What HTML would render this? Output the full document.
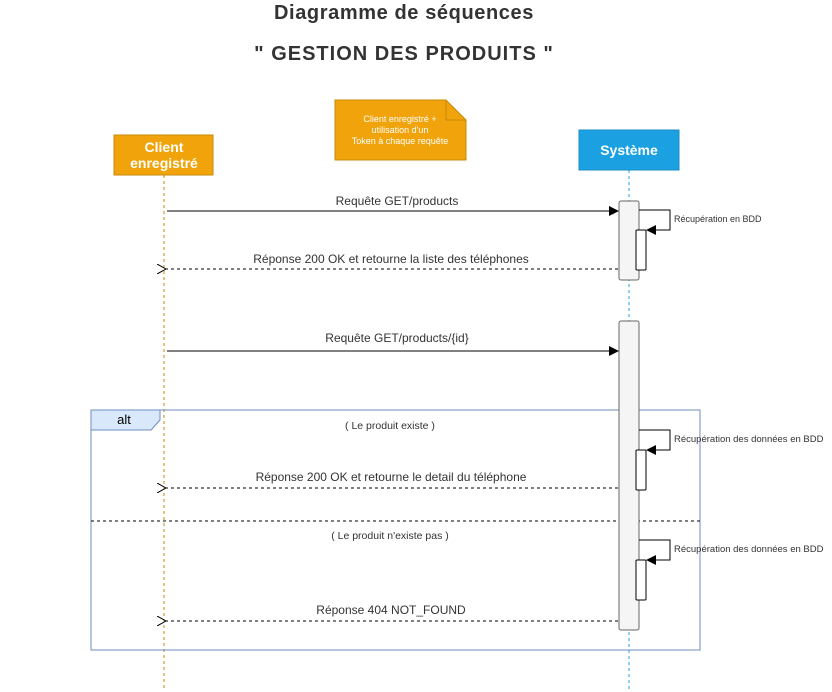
<!DOCTYPE html>
<html><head><meta charset="utf-8"><style>
html,body{margin:0;padding:0;background:#fff;}
svg{display:block;font-family:"Liberation Sans",sans-serif;}
</style></head><body>
<svg width="832" height="692" viewBox="0 0 832 692" xmlns="http://www.w3.org/2000/svg">
<defs>
<marker id="fa" markerWidth="10" markerHeight="10" refX="9" refY="5" orient="auto" markerUnits="userSpaceOnUse"><path d="M0,0 L10,5 L0,10 z" fill="#000"/></marker>
<marker id="oa" markerWidth="10" markerHeight="10" refX="1" refY="5" orient="auto" markerUnits="userSpaceOnUse"><path d="M10,0 L1,5 L10,10" fill="none" stroke="#000"/></marker>
</defs>
<text x="404" y="19" text-anchor="middle" font-size="20" font-weight="bold" fill="#333" letter-spacing="0.6">Diagramme de séquences</text>
<text x="404" y="60" text-anchor="middle" font-size="20" font-weight="bold" fill="#333" letter-spacing="1">" GESTION DES PRODUITS "</text>

<!-- note -->
<path d="M335,100 H446 L466,120 V160 H335 Z" fill="#F0A30A" stroke="#C88A08"/>
<path d="M446,100 V120 H466" fill="none" stroke="#C88A08"/>
<text x="400" y="122" text-anchor="middle" font-size="9" fill="#fff">Client enregistré +</text>
<text x="400" y="133" text-anchor="middle" font-size="9" fill="#fff">utilisation d'un</text>
<text x="400" y="144" text-anchor="middle" font-size="9" fill="#fff">Token à chaque requête</text>

<!-- lifelines -->
<line x1="164" y1="175" x2="164" y2="690" stroke="#C88A08" stroke-dasharray="3,3"/>
<line x1="629" y1="170" x2="629" y2="690" stroke="#1BA1E2" stroke-dasharray="3,3"/>
<rect x="114" y="135" width="99" height="40" fill="#F0A30A" stroke="#C88A08"/>
<text x="164" y="152" text-anchor="middle" font-size="14" font-weight="bold" fill="#fff">Client</text>
<text x="164" y="168" text-anchor="middle" font-size="14" font-weight="bold" fill="#fff">enregistré</text>
<rect x="579" y="130" width="100" height="40" fill="#1BA1E2" stroke="#1A8CC4"/>
<text x="629" y="155" text-anchor="middle" font-size="14" font-weight="bold" fill="#fff">Système</text>

<!-- alt frame -->
<rect x="91" y="410" width="609" height="240" fill="none" stroke="#6C8EBF"/>
<path d="M91,410 H160 V420 L151,430 H91 Z" fill="#DAE8FC" stroke="#6C8EBF"/>
<text x="124" y="424" text-anchor="middle" font-size="13" fill="#000">alt</text>
<line x1="91" y1="521" x2="700" y2="521" stroke="#000" stroke-dasharray="3,3"/>
<text x="390" y="429" text-anchor="middle" font-size="10.5" fill="#333">( Le produit existe )</text>
<text x="390" y="539" text-anchor="middle" font-size="10.5" fill="#333">( Le produit n'existe pas )</text>

<!-- activation 1 -->
<rect x="619" y="201" width="20" height="79" rx="2" fill="#F5F5F5" stroke="#666"/>
<rect x="636" y="230" width="10" height="40" rx="1" fill="#fff" stroke="#000"/>
<path d="M639,210 H670 V230 H647" fill="none" stroke="#000" marker-end="url(#fa)"/>
<text x="674" y="222" font-size="9" fill="#333">Récupération en BDD</text>
<line x1="167" y1="211" x2="618" y2="211" stroke="#000" marker-end="url(#fa)"/>
<text x="397" y="205" text-anchor="middle" font-size="12" fill="#333">Requête GET/products</text>
<line x1="618" y1="269" x2="166" y2="269" stroke="#000" stroke-dasharray="3,3" marker-end="url(#oa)"/>
<text x="391" y="263" text-anchor="middle" font-size="12" fill="#333">Réponse 200 OK et retourne la liste des téléphones</text>

<!-- activation 2 -->
<rect x="619" y="321" width="20" height="309" rx="2" fill="#F5F5F5" stroke="#666"/>
<line x1="167" y1="351" x2="618" y2="351" stroke="#000" marker-end="url(#fa)"/>
<text x="397" y="342" text-anchor="middle" font-size="12" fill="#333">Requête GET/products/{id}</text>

<rect x="636" y="450" width="10" height="40" rx="1" fill="#fff" stroke="#000"/>
<path d="M639,430 H670 V450 H647" fill="none" stroke="#000" marker-end="url(#fa)"/>
<text x="674" y="442" font-size="9.5" fill="#333">Récupération des données en BDD</text>
<line x1="618" y1="488" x2="166" y2="488" stroke="#000" stroke-dasharray="3,3" marker-end="url(#oa)"/>
<text x="391" y="481" text-anchor="middle" font-size="12" fill="#333">Réponse 200 OK et retourne le detail du téléphone</text>

<rect x="636" y="560" width="10" height="40" rx="1" fill="#fff" stroke="#000"/>
<path d="M639,540 H670 V560 H647" fill="none" stroke="#000" marker-end="url(#fa)"/>
<text x="674" y="552" font-size="9.5" fill="#333">Récupération des données en BDD</text>
<line x1="618" y1="621" x2="166" y2="621" stroke="#000" stroke-dasharray="3,3" marker-end="url(#oa)"/>
<text x="391" y="614" text-anchor="middle" font-size="12" fill="#333">Réponse 404 NOT_FOUND</text>
</svg>
</body></html>
